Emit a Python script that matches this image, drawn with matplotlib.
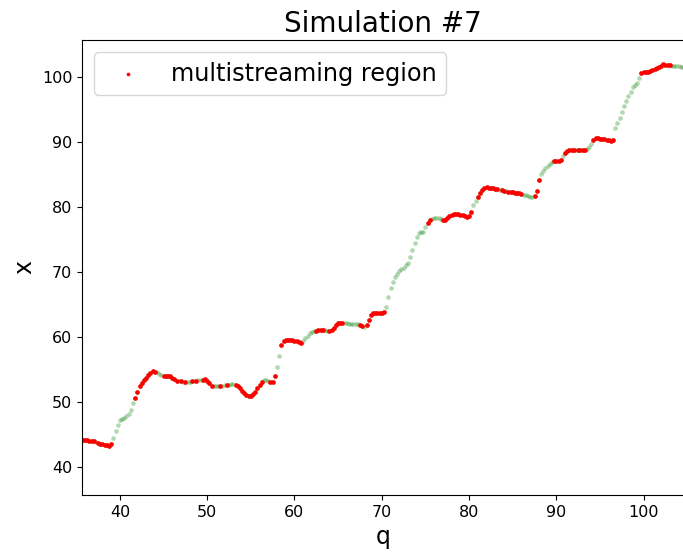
import numpy as np
import matplotlib
matplotlib.use('Agg')
import matplotlib.pyplot as plt

# Lagrangian grid (q) and Eulerian position (x)
q_start = 35.75
q_step = 0.25
x_vals = [
    44.10, 44.10, 44.08, 44.05, 44.02, 43.98, 43.85, 43.70,
    43.58, 43.50, 43.42, 43.38, 43.30, 43.50, 44.40, 45.50,
    46.40, 47.20, 47.40, 47.55, 47.80, 48.20, 48.70, 49.80,
    50.65, 51.60, 52.45, 52.95, 53.35, 53.75, 54.10, 54.50,
    54.70, 54.65, 54.55, 54.35, 54.15, 54.00, 54.00, 54.00,
    53.95, 53.75, 53.50, 53.30, 53.22, 53.16, 53.12, 53.10,
    53.10, 53.14, 53.20, 53.25, 53.30, 53.35, 53.40, 53.45,
    53.50, 53.25, 52.85, 52.45, 52.40, 52.40, 52.45, 52.45,
    52.50, 52.55, 52.60, 52.65, 52.70, 52.70, 52.60, 52.40,
    52.10, 51.75, 51.40, 51.15, 50.90, 50.85, 51.20, 51.60,
    52.10, 52.60, 53.10, 53.45, 53.45, 53.30, 53.15, 53.15,
    54.00, 55.40, 57.10, 58.80, 59.35, 59.55, 59.60, 59.60,
    59.50, 59.45, 59.35, 59.20, 59.15, 59.40, 59.80, 60.20,
    60.55, 60.75, 60.90, 60.97, 61.00, 61.00, 61.00, 61.00,
    60.98, 60.95, 61.05, 61.45, 61.80, 62.10, 62.20, 62.20,
    62.15, 62.10, 62.05, 62.00, 62.00, 62.00, 61.95, 61.90,
    61.75, 61.55, 61.80, 62.60, 63.40, 63.65, 63.75, 63.75,
    63.70, 63.70, 63.85, 64.66, 66.20, 67.60, 68.50, 69.30,
    69.75, 70.10, 70.40, 70.65, 71.00, 71.40, 72.30, 73.35,
    74.50, 75.40, 75.98, 76.10, 76.20, 76.85, 77.55, 78.00,
    78.20, 78.26, 78.27, 78.27, 78.20, 78.00, 77.95, 78.25,
    78.55, 78.80, 78.90, 78.88, 78.85, 78.82, 78.75, 78.55,
    78.40, 78.60, 79.20, 80.30, 80.90, 81.50, 82.10, 82.65,
    82.90, 83.00, 82.98, 82.92, 82.85, 82.78, 82.70, 82.60,
    82.55, 82.48, 82.42, 82.36, 82.30, 82.26, 82.22, 82.16,
    82.10, 82.00, 81.90, 81.78, 81.68, 81.55, 81.52, 81.75,
    82.40, 84.10, 85.10, 85.60, 86.00, 86.35, 86.60, 86.85,
    87.05, 87.10, 87.10, 87.30, 87.80, 88.26, 88.60, 88.77,
    88.78, 88.78, 88.77, 88.77, 88.77, 88.77, 88.78, 88.95,
    89.25, 89.75, 90.35, 90.65, 90.60, 90.52, 90.45, 90.40,
    90.35, 90.30, 90.20, 90.30, 92.10, 92.90, 93.70, 94.65,
    95.50, 96.35, 97.05, 97.75, 98.40, 98.80, 99.15, 99.90,
    100.65, 100.75, 100.78, 100.80, 100.95, 101.15, 101.30, 101.40,
    101.55, 101.75, 101.95, 101.90, 101.85, 101.80, 101.72, 101.68,
    101.65, 101.62, 101.60, 101.60,
]

# q intervals flagged as multistreaming
red_from = [35.5, 37.5, 41.75, 45.0, 47.0, 47.5, 48.25, 48.75, 49.5, 51.5, 52.25, 53.25, 57.25,
            58.5, 62.5, 64.0, 64.25, 67.5, 68.25, 75.25, 77.0, 81.0, 83.75, 84.5, 87.5,
            89.75, 91.0, 91.75, 92.5, 94.25, 99.75, 101.5]
red_to = [37.0, 39.0, 44.0, 46.5, 47.0, 47.5, 48.25, 48.75, 50.5, 51.5, 52.25, 56.25, 57.75,
          60.75, 63.25, 64.0, 65.5, 67.75, 70.25, 75.5, 80.25, 83.25, 84.0, 86.0, 88.0,
          90.5, 91.5, 92.0, 93.25, 96.5, 101.25, 103.0]

x = np.array(x_vals)
q = q_start + q_step * np.arange(len(x))

red = np.zeros(len(q), dtype=bool)
for a, b in zip(red_from, red_to):
    red |= (q >= a - 0.01) & (q <= b + 0.01)

fig = plt.figure(figsize=(6.83, 5.53), dpi=100)
ax = fig.add_axes([82 / 683, 58 / 553, 602 / 683, 455 / 553])

ax.scatter(q, x, s=11, color='g', alpha=0.3, linewidths=0)
ax.scatter(q[red], x[red], s=11, color='r', linewidths=0, label='multistreaming region')

ax.set_xlim(35.66, 104.62)
ax.set_ylim(35.69, 105.69)
ax.set_xticks([40, 50, 60, 70, 80, 90, 100])
ax.set_yticks([40, 50, 60, 70, 80, 90, 100])
ax.tick_params(labelsize=11.5)
ax.set_xlabel('q', fontsize=17)
ax.set_ylabel('x', fontsize=17)
ax.set_title('Simulation #7', fontsize=20)
ax.legend(loc='upper left', fontsize=17.3, markerscale=0.8)

fig.savefig('out.png', dpi=100)
